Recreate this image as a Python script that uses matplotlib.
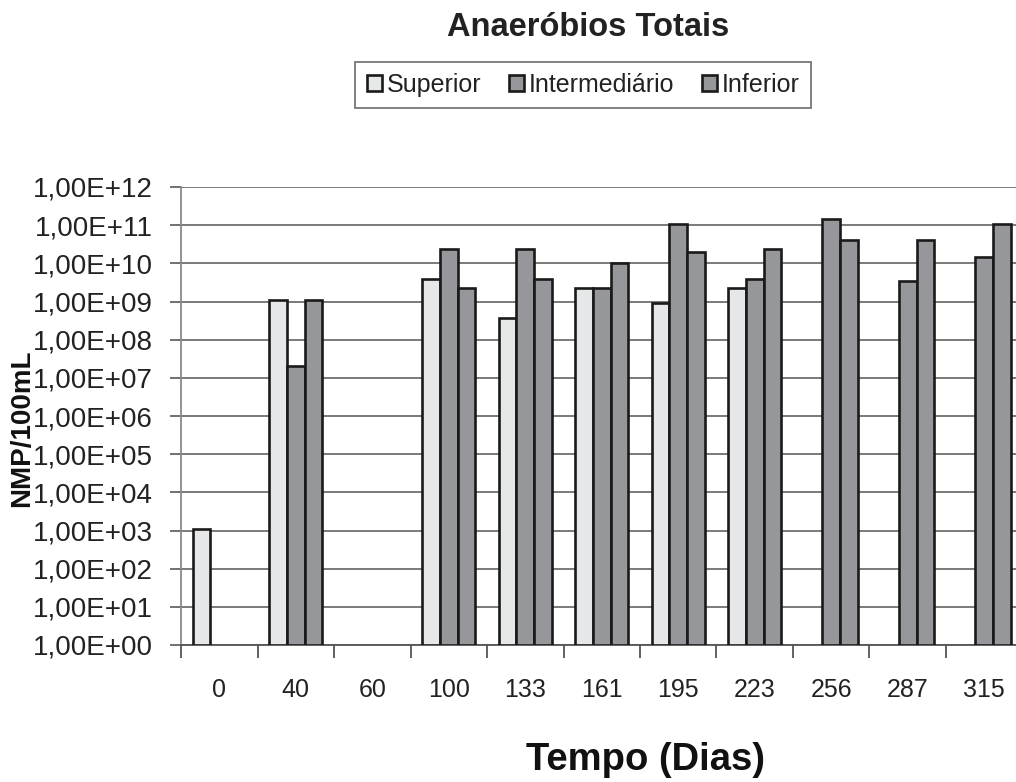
import numpy as np
import matplotlib.pyplot as plt
from matplotlib.ticker import FixedLocator, FuncFormatter, NullLocator

plt.rcParams['font.family'] = ['Liberation Sans', 'DejaVu Sans']

# dias de amostragem
dias = ['0', '40', '60', '100', '133', '161', '195', '223', '256', '287', '315']
# NMP/100mL por camada (nan = sem dado)
superior = [1.1e3, 1.1e9, np.nan, 4.0e9, 3.8e8, 2.3e9, 9.0e8, 2.3e9, np.nan, np.nan, np.nan]
intermediario = [np.nan, 2.0e7, np.nan, 2.4e10, 2.4e10, 2.3e9, 1.1e11, 4.0e9, 1.45e11, 3.4e9, 1.45e10]
inferior = [np.nan, 1.1e9, np.nan, 2.3e9, 4.0e9, 1.05e10, 2.0e10, 2.4e10, 4.1e10, 4.1e10, 1.1e11]

series = [('Superior', superior, '#e6e7e9'),
          ('Intermediário', intermediario, '#96979b'),
          ('Inferior', inferior, '#96979b')]

fig = plt.figure(figsize=(10.16, 7.82), dpi=100)
ax = fig.add_axes([181 / 1016, 137 / 782, 841.5 / 1016, 458 / 782])
ax.set_yscale('log')

x = np.arange(len(dias))
w = 0.229
for i, (nome, vals, cor) in enumerate(series):
    v = np.array(vals)
    ax.bar(x + (i - 1) * w, v - 1, bottom=1, width=w, color=cor,
           edgecolor='#1a1a1a', linewidth=1.9, label=nome, zorder=3)

ax.set_xlim(-0.5, len(dias) - 0.5)
ax.set_ylim(1, 1e12)

ax.yaxis.set_major_locator(FixedLocator([10.0 ** k for k in range(13)]))
ax.yaxis.set_minor_locator(NullLocator())
ax.yaxis.set_major_formatter(FuncFormatter(lambda v, p: '1,00E+%02d' % round(np.log10(v))))
ax.grid(axis='y', color='#7a7a7a', linewidth=1.4, zorder=0)

ax.set_xticks(x)
ax.set_xticklabels(dias)
ax.set_xticks(np.arange(len(dias) + 1) - 0.5, minor=True)
ax.tick_params(axis='x', which='major', length=0, pad=24, labelsize=18, colors='#222222')
ax.tick_params(axis='x', which='minor', length=9, width=1.3, color='#555555', direction='out')
ax.tick_params(axis='y', length=8, width=1.3, color='#666666', labelsize=20, pad=12,
               labelcolor='#222222')

for s in ['top', 'right']:
    ax.spines[s].set_visible(False)
ax.spines['left'].set_color('#8a8a8a')
ax.spines['left'].set_linewidth(1.3)
ax.spines['bottom'].set_color('#555555')
ax.spines['bottom'].set_linewidth(1.3)

fig.text(588 / 1016, 1 - 27 / 782, 'Anaeróbios Totais', ha='center', va='center',
         fontsize=23.5, fontweight='bold', color='#222222')
fig.text(646 / 1016, 1 - 760 / 782, 'Tempo (Dias)', ha='center', va='center',
         fontsize=27.5, fontweight='bold', color='#111111')
fig.text(22 / 1016, 1 - 428 / 782, 'NMP/100mL', ha='center', va='center', rotation=90,
         fontsize=20, fontweight='bold', color='#111111')

leg = fig.legend(loc='center', bbox_to_anchor=(583 / 1016, 1 - 85 / 782), ncol=3,
                 fontsize=18, frameon=True, fancybox=False, handlelength=0.6,
                 handleheight=0.6, handletextpad=0.2, columnspacing=1.1,
                 borderpad=0.45)
leg.get_frame().set_edgecolor('#555555')
leg.get_frame().set_linewidth(1.3)
for t in leg.get_texts():
    t.set_color('#222222')

fig.savefig('out.png', dpi=100)
